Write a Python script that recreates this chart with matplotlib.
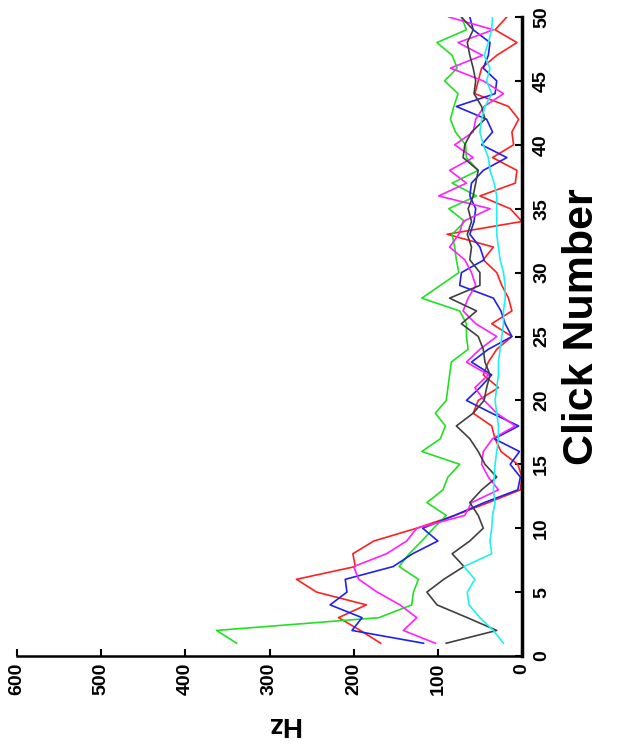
import matplotlib
matplotlib.use("Agg")
import matplotlib.pyplot as plt

# click number 1..50, frequency (Hz) per click for six recordings
clicks = list(range(1, 51))

red = [168, 192, 218, 185, 244, 268, 198, 201, 176, 125,
       80, 40, 2, 0, 5, 25, 32, 36, 58, 52,
       28, 46, 40, 30, 12, 36, 12, 16, 24, 30,
       46, 34, 89, 0, 14, 50, 8, 6, 35, 10,
       12, 4, 16, 56, 52, 48, 30, 6, 32, 18]
green = [339, 363, 170, 131, 129, 123, 146, 134, 119, 105,
         90, 113, 94, 88, 74, 119, 97, 91, 103, 90,
         88, 86, 84, 64, 66, 66, 74, 119, 97, 75,
         78, 80, 83, 68, 87, 54, 83, 52, 66, 67,
         79, 85, 81, 76, 92, 77, 83, 101, 66, 72]
blue = [117, 202, 190, 228, 208, 210, 153, 130, 100, 118,
        80, 45, 5, 2, 14, 3, 33, 4, 36, 66,
        50, 36, 60, 40, 12, 20, 25, 34, 74, 72,
        45, 50, 62, 57, 55, 62, 60, 46, 18, 48,
        35, 42, 78, 32, 30, 46, 40, 38, 58, 62]
magenta = [103, 141, 125, 145, 172, 194, 200, 161, 137, 125,
           68, 60, 28, 40, 48, 46, 35, 8, 30, 45,
           56, 40, 66, 50, 30, 55, 70, 64, 55, 60,
           68, 86, 75, 70, 38, 99, 66, 86, 58, 80,
           58, 55, 45, 22, 46, 85, 47, 76, 34, 87]
black = [90, 30, 65, 101, 113, 93, 69, 83, 62, 46,
         52, 62, 48, 30, 44, 52, 62, 78, 58, 45,
         42, 38, 44, 46, 52, 72, 54, 86, 50, 50,
         62, 60, 65, 60, 64, 58, 55, 52, 70, 68,
         60, 44, 48, 57, 55, 58, 62, 65, 58, 72]
cyan = [22, 34, 50, 63, 65, 56, 69, 36, 38, 36,
        35, 32, 34, 33, 32, 30, 28, 28, 30, 32,
        30, 28, 28, 26, 24, 22, 22, 20, 20, 22,
        26, 28, 30, 30, 30, 30, 33, 38, 40, 46,
        50, 48, 44, 36, 42, 38, 45, 40, 36, 35]

series = [(red, "#ff2020"), (green, "#22e022"), (blue, "#2020f0"),
          (magenta, "#ff20ff"), (black, "#404040"), (cyan, "#20f0f0")]

hz_ticks = [0, 100, 200, 300, 400, 500, 600]
click_ticks = [0, 5, 10, 15, 20, 25, 30, 35, 40, 45, 50]

plt.rcParams['font.family'] = ['Liberation Sans', 'DejaVu Sans']

fig = plt.figure(figsize=(6.2, 7.52), dpi=100)
ax = fig.add_axes([17 / 620, 1 - 656 / 752, 505 / 620, 639 / 752])

for vals, col in series:
    ax.plot(vals, clicks, color=col, lw=1.2)

# the chart is drawn turned on its side: Hz runs right-to-left, clicks upward
ax.set_xlim(600, 0)
ax.set_ylim(0, 50)
ax.yaxis.tick_right()
ax.set_xticks(hz_ticks)
ax.set_yticks(click_ticks)
ax.set_xticklabels([str(t) for t in hz_ticks], rotation=90, fontsize=14, fontweight='bold')
ax.set_yticklabels([str(t) for t in click_ticks], rotation=90, fontsize=14, fontweight='bold',
                   va='center')
ax.tick_params(axis='x', direction='in', length=5, width=1.5, pad=5)
ax.tick_params(axis='y', direction='in', length=5, width=1.5, pad=8)

ax.spines['top'].set_visible(False)
ax.spines['left'].set_visible(False)
ax.spines['right'].set_linewidth(2.5)
ax.spines['bottom'].set_linewidth(1.8)

fig.text(582 / 620, 1 - 327 / 752, "Click Number", rotation=90, fontsize=31,
         fontweight='bold', ha='center', va='center')
fig.text(283 / 620, 1 - 724 / 752, "Hz", rotation=180, fontsize=20,
         fontweight='bold', ha='center', va='center')

fig.savefig("out.png", dpi=100, facecolor='white')
